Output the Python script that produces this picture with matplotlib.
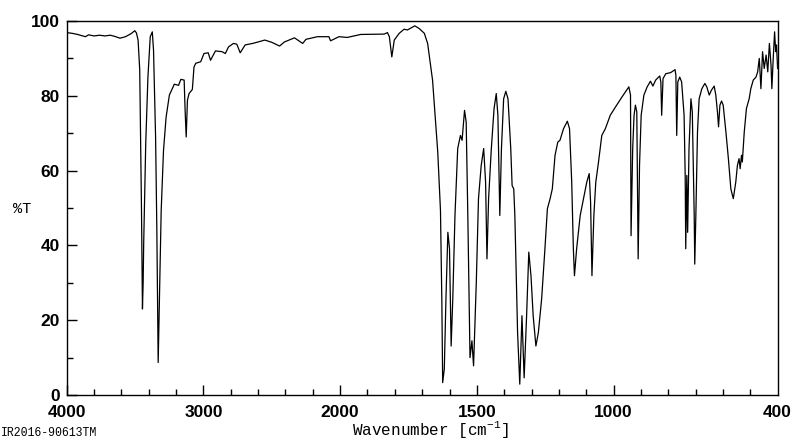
import numpy as np
import matplotlib
matplotlib.use('Agg')
import matplotlib.pyplot as plt
from matplotlib.ticker import FixedLocator

# ── Spectrum data (wavenumber in cm-1, transmittance in %) ────────────────
wavenumber = [
    4000, 3960, 3920, 3880, 3863, 3840, 3800, 3760, 3720, 3682, 3650, 3610,
    3570, 3530, 3502, 3490, 3478, 3466, 3453, 3446, 3441, 3437, 3422, 3406,
    3389, 3374, 3365, 3350, 3341, 3331, 3321, 3309, 3292, 3273, 3249, 3213,
    3182, 3165, 3141, 3134, 3126, 3117, 3105, 3081, 3069, 3056, 3020, 2996,
    2965, 2948, 2912, 2864, 2840, 2816, 2780, 2756, 2731, 2695, 2640, 2599,
    2551, 2500, 2443, 2407, 2334, 2274, 2250, 2166, 2082, 2070, 2009, 1974,
    1925, 1839, 1827, 1820, 1811, 1802, 1784, 1766, 1754, 1727, 1711, 1692,
    1680, 1662, 1643, 1633, 1628, 1625, 1619, 1613, 1606, 1600, 1594, 1588,
    1580, 1570, 1560, 1554, 1545, 1539, 1533, 1525, 1518, 1512, 1502, 1494,
    1484, 1475, 1468, 1463, 1457, 1447, 1437, 1429, 1423, 1416, 1410, 1402,
    1394, 1386, 1376, 1371, 1365, 1361, 1351, 1343, 1335, 1327, 1318, 1310,
    1302, 1294, 1284, 1275, 1263, 1251, 1242, 1232, 1224, 1214, 1204, 1196,
    1183, 1169, 1161, 1153, 1147, 1143, 1135, 1122, 1110, 1098, 1089, 1084,
    1079, 1072, 1065, 1055, 1043, 1030, 1012, 993, 969, 944, 938, 936,
    930, 925, 920, 915, 910, 905, 899, 889, 877, 865, 856, 846,
    831, 827, 824, 819, 809, 791, 775, 772, 769, 765, 758, 751,
    742, 738, 736, 732, 729, 724, 717, 712, 705, 703, 699, 693,
    687, 677, 666, 659, 650, 642, 632, 626, 620, 616, 611, 605,
    599, 589, 580, 571, 562, 553, 547, 541, 537, 532, 529, 522,
    514, 504, 498, 489, 479, 473, 467, 461, 455, 449, 442, 436,
    430, 424, 421, 416, 411, 407, 404, 400,
]
transmittance = [
    96.9, 96.7, 96.4, 96.0, 95.8, 96.3, 96.0, 96.2, 96.0, 96.2, 95.9, 95.4,
    95.8, 96.6, 97.4, 96.8, 94.9, 86.9, 49.3, 23.0, 30.0, 40.5, 67.3, 85.0,
    95.8, 97.1, 92.2, 69.0, 44.9, 8.7, 27.0, 49.3, 65.4, 74.3, 80.2, 83.1,
    82.8, 84.4, 84.2, 76.1, 69.0, 78.8, 80.6, 81.7, 87.7, 88.7, 89.1, 91.3,
    91.5, 89.5, 92.0, 91.8, 91.3, 93.1, 94.0, 93.8, 91.5, 93.6, 94.0, 94.4,
    94.9, 94.3, 93.3, 94.4, 95.5, 94.0, 95.1, 95.8, 95.8, 94.7, 95.8, 95.6,
    96.4, 96.5, 96.9, 95.8, 90.4, 94.9, 96.7, 97.8, 97.6, 98.7, 98.0, 96.7,
    94.0, 84.2, 65.0, 49.3, 25.0, 3.3, 7.0, 25.7, 43.5, 39.1, 13.1, 25.7,
    48.0, 65.9, 69.4, 68.1, 76.1, 73.0, 48.0, 10.0, 14.5, 7.8, 30.1, 52.5,
    61.4, 65.9, 56.9, 36.4, 52.5, 65.9, 76.6, 80.6, 74.8, 48.0, 65.9, 79.2,
    81.2, 79.2, 65.9, 56.0, 55.1, 48.0, 16.7, 2.9, 21.2, 4.6, 21.2, 38.2,
    31.9, 21.2, 13.1, 16.7, 25.7, 39.1, 49.8, 52.5, 55.1, 64.1, 67.6, 68.1,
    71.2, 73.2, 71.2, 56.9, 39.1, 31.9, 39.1, 48.0, 52.5, 56.9, 59.2, 51.6,
    31.9, 48.0, 56.9, 62.3, 69.4, 71.2, 74.8, 77.0, 79.7, 82.4, 80.2, 42.6,
    65.9, 74.8, 77.5, 75.7, 36.4, 61.4, 74.8, 80.2, 82.4, 83.9, 82.6, 84.2,
    85.3, 83.7, 74.8, 84.6, 85.9, 86.2, 87.0, 85.5, 69.4, 83.7, 85.0, 83.7,
    74.8, 58.7, 39.1, 58.7, 43.5, 65.9, 79.2, 75.7, 48.0, 35.0, 48.0, 70.3,
    79.2, 81.9, 83.3, 82.4, 80.2, 81.5, 82.6, 80.2, 75.7, 71.7, 77.5, 78.6,
    77.5, 70.3, 63.2, 55.1, 52.5, 56.9, 61.4, 63.2, 60.5, 64.1, 62.3, 70.3,
    76.6, 79.2, 81.9, 84.2, 85.0, 86.4, 90.0, 81.9, 91.8, 87.3, 90.9, 86.4,
    94.0, 88.2, 81.9, 90.0, 97.1, 91.8, 93.6, 87.3,
]

x_labels = [4000, 3000, 2000, 1500, 1000, 400]
x_major = [4000, 3000, 2000, 1500, 1000]
x_minor = [3800, 3600, 3400, 3200, 2800, 2600, 2400, 2200,
           1900, 1800, 1700, 1600, 1400, 1300, 1200, 1100,
           900, 800, 700, 600, 500]
y_major = [0, 20, 40, 60, 80, 100]
y_minor = [10, 30, 50, 70, 90]


# ── Axis scale: above 2000 cm-1 compressed by half ───────────────────────
def fwd(x):
    x = np.asarray(x, dtype=float)
    return np.where(x > 2000, 2000 + (x - 2000) / 2, x)


def inv(u):
    u = np.asarray(u, dtype=float)
    return np.where(u > 2000, 2000 + (u - 2000) * 2, u)


fig = plt.figure(figsize=(8, 4.41), dpi=100)
ax = fig.add_axes([0.0834, 0.1043, 0.972 - 0.0834, 0.9524 - 0.1043])
ax.set_xscale('function', functions=(fwd, inv))

ax.plot(wavenumber, transmittance, color='black', linewidth=0.9)

ax.set_xlim(4000, 400)
ax.set_ylim(0, 100)

ax.xaxis.set_major_locator(FixedLocator(x_major))
ax.xaxis.set_minor_locator(FixedLocator(x_minor))
ax.yaxis.set_major_locator(FixedLocator(y_major))
ax.yaxis.set_minor_locator(FixedLocator(y_minor))
ax.set_xticklabels([])
ax.set_yticklabels([str(v) for v in y_major])

ax.tick_params(axis='both', which='major', direction='in', length=7,
               width=1, color='black')
ax.tick_params(axis='both', which='minor', direction='in', length=4,
               width=1, color='black')
ax.tick_params(axis='y', which='major', pad=5, labelsize=12.5)
for lab in ax.get_yticklabels():
    lab.set_family('Liberation Sans')
    lab.set_fontweight('bold')

for s in ax.spines.values():
    s.set_linewidth(1.0)

# x tick labels as text (400 sits on the right edge, no tick there)
for v in x_labels:
    ax.text(v, -0.027, str(v), transform=ax.get_xaxis_transform(),
            ha='center', va='top', fontsize=12.5, fontweight='bold',
            family='Liberation Sans')

fig.text(22 / 800, 1 - 209 / 441, '%T', ha='center', va='center',
         fontsize=11, family='Liberation Mono')
fig.text(430 / 800, 1 - 430 / 441, r'Wavenumber [cm$^{\mathregular{-1}}$]',
         ha='center', va='center', fontsize=11.5, family='Liberation Mono')
fig.text(1 / 800, 1 - 433 / 441, 'IR2016-90613TM', ha='left', va='center',
         fontsize=8.3, family='Liberation Mono')

fig.savefig('out.png', dpi=100, facecolor='white')
